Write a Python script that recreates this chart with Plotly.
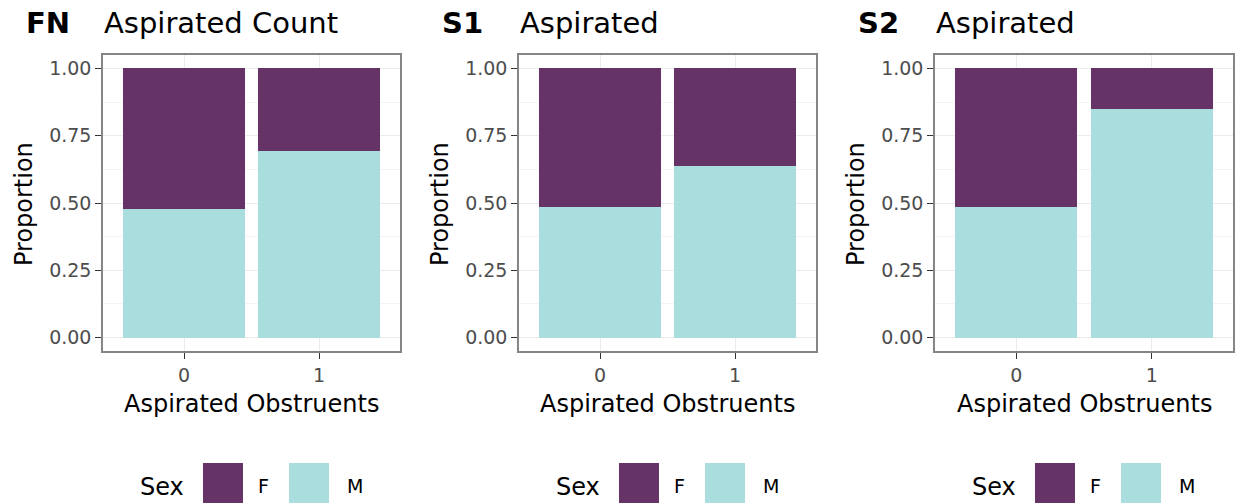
import plotly.graph_objects as go

# ---- data ----
panel_tags = ["FN", "S1", "S2"]
panel_titles = ["Aspirated Count", "Aspirated", "Aspirated"]
categories = ["0", "1"]
sex_levels = ["F", "M"]

fn_M = [0.478, 0.693]
fn_F = [0.522, 0.307]
s1_M = [0.485, 0.636]
s1_F = [0.515, 0.364]
s2_M = [0.485, 0.849]
s2_F = [0.515, 0.151]

x_title = "Aspirated Obstruents"
y_title = "Proportion"
legend_title = "Sex"

# ---- styling ----
W, H = 1236, 503
FONT = "DejaVu Sans"
COL = {"F": "#663366", "M": "#AADDDE"}
GRID = "#EBEBEB"
MINOR = "#F3F3F3"
BORDER = "#858585"
TICKC = "#333333"
TICKLAB = "#4D4D4D"


def px(x):
    return x / W


def py(y):
    return 1 - y / H


panel_x = [(103, 400), (519, 816), (935, 1233)]
panel_top, panel_bot = 55, 351

series_M = [fn_M, s1_M, s2_M]
series_F = [fn_F, s1_F, s2_F]

fig = go.Figure()
layout = dict(
    width=W, height=H,
    margin=dict(l=0, r=0, t=0, b=0),
    paper_bgcolor="white", plot_bgcolor="white",
    barmode="stack", showlegend=False,
    font=dict(family=FONT, color="black"),
)
annotations = []
shapes = []

for i in range(3):
    sfx = "" if i == 0 else str(i + 1)
    xid, yid = "x" + sfx, "y" + sfx
    l, r = panel_x[i]
    fig.add_trace(go.Bar(x=categories, y=series_M[i], name="M", xaxis=xid, yaxis=yid,
                         marker=dict(color=COL["M"], line=dict(width=0)), width=0.9))
    fig.add_trace(go.Bar(x=categories, y=series_F[i], name="F", xaxis=xid, yaxis=yid,
                         marker=dict(color=COL["F"], line=dict(width=0)), width=0.9))
    layout["xaxis" + sfx] = dict(
        domain=[px(l), px(r)], anchor=yid, type="category", range=[-0.6, 1.6],
        showgrid=True, gridcolor=GRID, gridwidth=1.4,
        ticks="outside", ticklen=6, tickwidth=1.3, tickcolor=TICKC,
        tickfont=dict(size=19, color=TICKLAB, family=FONT),
        showline=True, mirror=True, linecolor=BORDER, linewidth=1.5,
        zeroline=False, fixedrange=True,
    )
    layout["yaxis" + sfx] = dict(
        domain=[py(panel_bot), py(panel_top)], anchor=xid, range=[-0.05, 1.05],
        tick0=0, dtick=0.25, tickformat=".2f",
        showgrid=True, gridcolor=GRID, gridwidth=1.4,
        minor=dict(tick0=0, dtick=0.125, showgrid=True, gridcolor=MINOR, gridwidth=1),
        ticks="outside", ticklen=6, tickwidth=1.3, tickcolor=TICKC,
        tickfont=dict(size=19, color=TICKLAB, family=FONT),
        showline=True, mirror=True, linecolor=BORDER, linewidth=1.5,
        zeroline=False, fixedrange=True,
    )
    # tag + title
    annotations.append(dict(text="<b>%s</b>" % panel_tags[i], xref="paper", yref="paper",
                            x=px(l - 79), y=py(23), xanchor="left", yanchor="middle",
                            showarrow=False, font=dict(size=29, color="black", family=FONT)))
    annotations.append(dict(text=panel_titles[i], xref="paper", yref="paper",
                            x=px(l - 1), y=py(23), xanchor="left", yanchor="middle",
                            showarrow=False, font=dict(size=29, color="black", family=FONT)))
    # axis titles
    annotations.append(dict(text=y_title, xref="paper", yref="paper",
                            x=px(l - 79), y=py(204), xanchor="center", yanchor="middle",
                            textangle=-90, showarrow=False,
                            font=dict(size=24, color="black", family=FONT)))
    annotations.append(dict(text=x_title, xref="paper", yref="paper",
                            x=px((l + r) / 2), y=py(404), xanchor="center", yanchor="middle",
                            showarrow=False, font=dict(size=24, color="black", family=FONT)))
    # legend
    annotations.append(dict(text=legend_title, xref="paper", yref="paper",
                            x=px(l + 35), y=py(487), xanchor="left", yanchor="middle",
                            showarrow=False, font=dict(size=24, color="black", family=FONT)))
    key_x = [l + 100, l + 186]
    lab_x = [l + 160, l + 252]
    for k, s in enumerate(sex_levels):
        shapes.append(dict(type="rect", xref="paper", yref="paper",
                           x0=px(key_x[k]), x1=px(key_x[k] + 40), y0=py(503), y1=py(463),
                           fillcolor=COL[s], line=dict(width=0), layer="above"))
        annotations.append(dict(text=s, xref="paper", yref="paper",
                                x=px(lab_x[k]), y=py(486), xanchor="center", yanchor="middle",
                                showarrow=False, font=dict(size=19, color="black", family=FONT)))

layout["annotations"] = annotations
layout["shapes"] = shapes
fig.update_layout(**layout)
fig.write_html("out.html")
